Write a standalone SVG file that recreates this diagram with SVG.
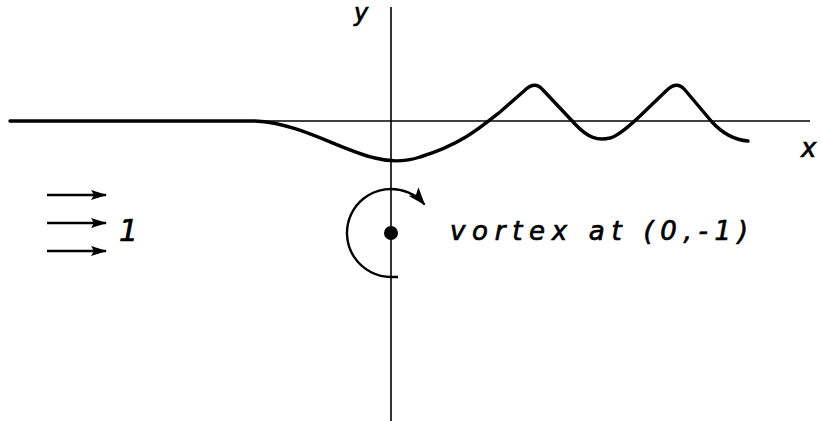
<svg xmlns="http://www.w3.org/2000/svg" width="822" height="421" viewBox="0 0 822 421">
<style>
.axis{stroke:#000;stroke-width:1.6;fill:none}
.curve{stroke:#000;stroke-width:3.4;fill:none;stroke-linejoin:round;stroke-linecap:round}
.arr{stroke:#000;stroke-width:2.4;fill:none}
.lbl{font-family:"DejaVu Sans","Liberation Sans",sans-serif;font-style:italic;fill:#000;stroke:#000;stroke-width:0.7}
</style>
<defs>
<marker id="head" viewBox="0 0 16 10" markerWidth="16" markerHeight="10" refX="15" refY="5" orient="auto" markerUnits="userSpaceOnUse">
<path d="M0,0 L16,5 L0,10 L3,5 z" fill="#000"/>
</marker>
<marker id="headBig" viewBox="0 0 18 13" markerWidth="18" markerHeight="13" refX="17" refY="6.5" orient="auto" markerUnits="userSpaceOnUse">
<path d="M0,0 L18,6.5 L0,13 L4,6.5 z" fill="#000"/>
</marker>
</defs>
<g id="axes">
<line class="axis" x1="10" y1="121" x2="810" y2="121"/>
<line class="axis" x1="391" y1="7" x2="391" y2="421"/>
<text class="lbl" x="354" y="21" font-size="24">y</text>
<text class="lbl" x="801" y="157" font-size="26">x</text>
</g>
<g id="streamline">
<path class="curve" d="M10,121 L255,121 C300,123 340,150 375,158 C390,162 405,162 420,157 C460,145 480,128 500,112 L524,91 C531,84 537,83 543,90 L575,124 C588,138 598,141 610,138 C620,135 630,125 640,116 L666,91 C673,84 679,83 685,90 L712,122 C724,135 735,140 748,141"/>
</g>
<g id="uniform-flow">
<g id="connectors">
<line class="arr" x1="47" y1="195" x2="106" y2="195" marker-end="url(#head)"/>
<line class="arr" x1="47" y1="223" x2="106" y2="223" marker-end="url(#head)"/>
<line class="arr" x1="47" y1="251" x2="106" y2="251" marker-end="url(#head)"/>
<path class="arr" d="M398,277 L391,277 A44,44 0 1 1 424.5,204.5" stroke-width="2.8" marker-end="url(#headBig)"/>
</g>
<text class="lbl" x="119" y="241" font-size="30" font-family="Liberation Sans">1</text>
</g>
<g id="vortex">
<circle cx="391" cy="233" r="7" fill="#000"/>
<text class="lbl" x="450" y="240" font-size="26" textLength="298" lengthAdjust="spacing">vortex at (0,-1)</text>
</g>
</svg>
